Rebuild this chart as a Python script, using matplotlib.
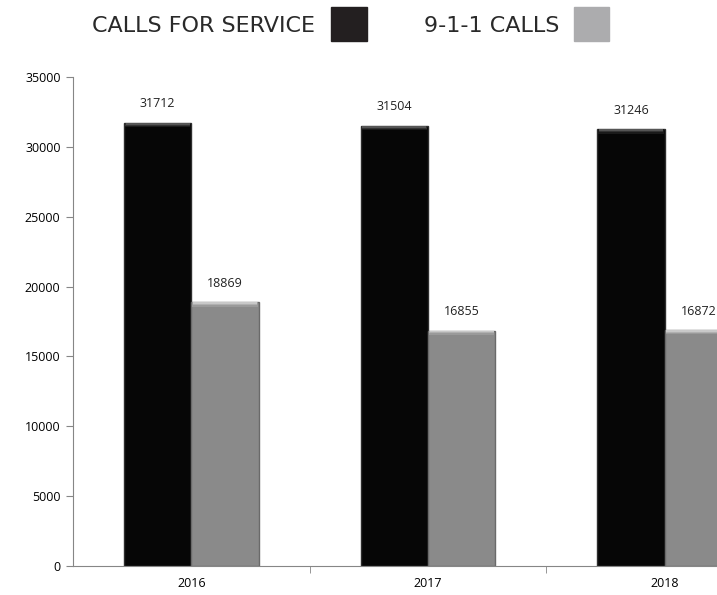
import matplotlib.pyplot as plt
import numpy as np

years = ['2016', '2017', '2018']
calls_for_service = [31712, 31504, 31246]
calls_911 = [18869, 16855, 16872]

fig = plt.figure(figsize=(7.17, 5.95), dpi=100)
# axes extends past the right edge, like the original (last group is clipped)
ax = fig.add_axes([73 / 717, 29 / 595, 710 / 717, 489 / 595])

x = np.arange(len(years))
w = 0.285

b1 = ax.bar(x - w / 2, calls_for_service, w, color='#060606', edgecolor='#2e2e2e', linewidth=1.0)
b2 = ax.bar(x + w / 2, calls_911, w, color='#8a8a8a', edgecolor='#6a6a6a', linewidth=1.0)

# soft bevel on the top of each bar
for bars, cols in ((b1, ['#1a1a1a', '#333333', '#555555']), (b2, ['#9a9a9a', '#b0b0b0', '#c8c8c8'])):
    for r in bars:
        for i, c in enumerate(cols):
            h = 300 - i * 90
            ax.bar(r.get_x() + r.get_width() / 2, h, r.get_width() * (0.97 - i * 0.01),
                   bottom=r.get_height() - h, color=c, linewidth=0)

for bars in (b1, b2):
    for r in bars:
        ax.text(r.get_x() + r.get_width() / 2, r.get_height() + 900, str(int(r.get_height())),
                ha='center', va='bottom', fontsize=9, family='Open Sans', color='#222222')

ax.set_xlim(-0.5, 2.5)
ax.set_ylim(0, 35000)
ax.set_yticks(range(0, 35001, 5000))
ax.set_xticks(x)
ax.set_xticklabels(years)
ax.set_xticks([0.5, 1.5, 2.5], minor=True)
ax.tick_params(axis='x', which='major', length=0, pad=8, labelsize=9)
ax.tick_params(axis='x', which='minor', length=5, color='#868686')
ax.tick_params(axis='y', length=5, color='#868686', labelsize=9, pad=4)
for lab in ax.get_xticklabels() + ax.get_yticklabels():
    lab.set_family('Open Sans')

for s in ('top', 'right'):
    ax.spines[s].set_visible(False)
ax.spines['left'].set_color('#868686')
ax.spines['bottom'].set_color('#868686')

# legend drawn at the top
fig.text(315 / 717, 1 - 26 / 595, 'CALLS FOR SERVICE', ha='right', va='center',
         fontsize=16, family='DejaVu Sans', color='#2a2a2a')
fig.patches.append(plt.Rectangle((331 / 717, 1 - 41 / 595), 36 / 717, 34 / 595,
                                 transform=fig.transFigure, color='#231f20'))
fig.text(559 / 717, 1 - 26 / 595, '9-1-1 CALLS', ha='right', va='center',
         fontsize=16, family='DejaVu Sans', color='#2a2a2a')
fig.patches.append(plt.Rectangle((574 / 717, 1 - 41 / 595), 35 / 717, 34 / 595,
                                 transform=fig.transFigure, color='#acacae'))

fig.savefig('out.png', dpi=100)
